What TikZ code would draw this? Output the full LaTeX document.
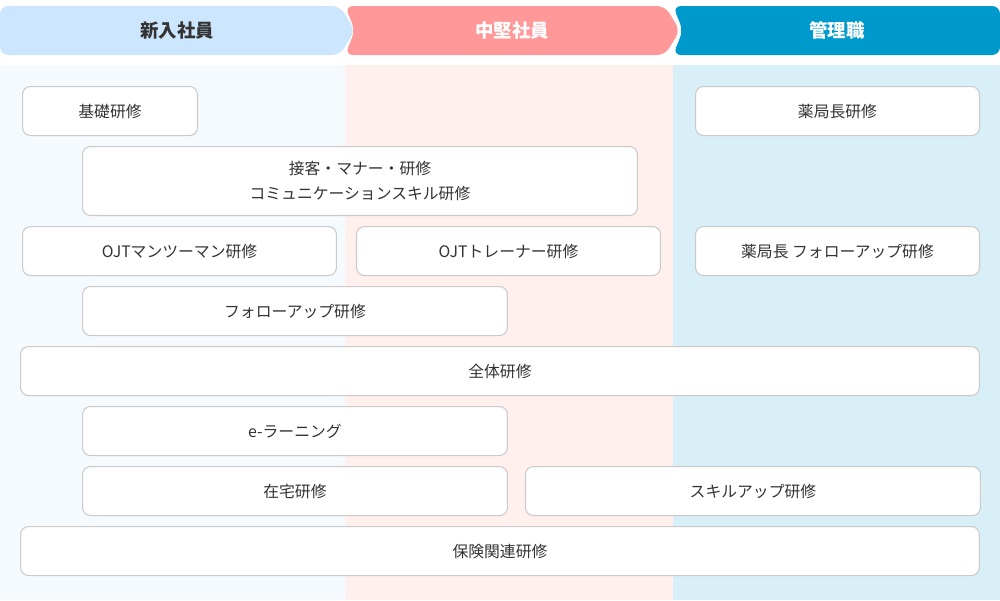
\documentclass[tikz,border=0pt]{standalone}
\usepackage{fontspec}
\setmainfont{Noto Sans CJK JP}
\usetikzlibrary{positioning}
\usepackage{xcolor}
\definecolor{newhead}{HTML}{CCE6FD}
\definecolor{midhead}{HTML}{FF9999}
\definecolor{mgrhead}{HTML}{0099CC}
\definecolor{newbg}{HTML}{F5FAFF}
\definecolor{midbg}{HTML}{FFF0EE}
\definecolor{mgrbg}{HTML}{D9EFF7}
\definecolor{boxline}{HTML}{CACACA}
\definecolor{textgray}{HTML}{333333}

\begin{document}
\begin{tikzpicture}[
        x=0.02cm, y=-0.02cm,
        header/.style={rounded corners=0.16cm},
        title/.style={font=\fontsize{10.5}{12}\selectfont\bfseries},
        course/.style={rectangle, draw=boxline, fill=white, line width=0.6pt, rounded corners=0.16cm, minimum height=0.98cm, inner sep=0pt, align=center, anchor=north west, text=textgray, font=\fontsize{9}{13.8}\selectfont}
    ]
        \useasboundingbox (0,0) rectangle (1000,600);

        % Column backgrounds
        \fill[newbg] (0,65) rectangle (345,600);
        \fill[midbg] (345,65) rectangle (673,600);
        \fill[mgrbg] (673,65) rectangle (1000,600);

        % Header arrows
        \fill[newhead, header] (0,6) -- (340,6) -- (355,30.5) -- (340,55) -- (0,55) -- cycle;
        \fill[midhead, header] (345,6) -- (665,6) -- (680,30.5) -- (665,55) -- (345,55) -- (355,30.5) -- cycle;
        \fill[mgrhead, header] (673,6) -- (1000,6) -- (1000,55) -- (673,55) -- (683,30.5) -- cycle;
        \node[title, text=textgray] (new) at (177,30.5) {新入社員};
        \node[title, text=white] (mid) at (512,30.5) {中堅社員};
        \node[title, text=white] (mgr) at (837,30.5) {管理職};

        % Courses
        \node[course, minimum width=3.5cm] (kiso) at (22,86) {基礎研修};
        \node[course, minimum width=5.68cm] (kyokucho) at (695,86) {薬局長研修};
        \node[course, minimum width=11.1cm, minimum height=1.38cm] (settai) at (82,146) {接客・マナー・研修\\コミュニケーションスキル研修};
        \node[course, minimum width=6.28cm] (ojt) at (22,226) {OJTマンツーマン研修};
        \node[course, minimum width=6.08cm, right=0.38cm of ojt] (trainer) {OJTトレーナー研修};
        \node[course, minimum width=5.68cm] (kyokufollow) at (695,226) {薬局長 フォローアップ研修};
        \node[course, minimum width=8.5cm] (follow) at (82,286) {フォローアップ研修};
        \node[course, minimum width=19.18cm] (zentai) at (20,346) {全体研修};
        \node[course, minimum width=8.5cm] (elearn) at (82,406) {e-ラーニング};
        \node[course, minimum width=8.5cm] (zaitaku) at (82,466) {在宅研修};
        \node[course, minimum width=9.1cm, right=0.34cm of zaitaku] (skill) {スキルアップ研修};
        \node[course, minimum width=19.18cm] (hoken) at (20,526) {保険関連研修};
    \end{tikzpicture}
\end{document}
